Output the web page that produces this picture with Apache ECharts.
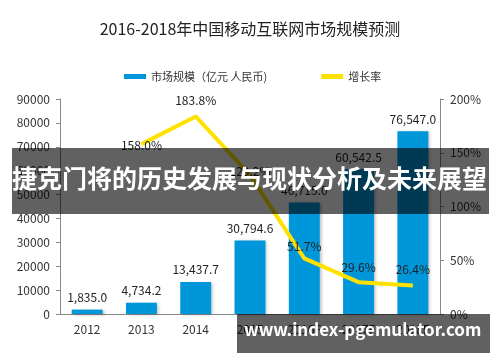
<!DOCTYPE html>
<html><head><meta charset="utf-8">
<script src="https://cdn.jsdelivr.net/npm/echarts@6/dist/echarts.min.js"></script>
<style>html,body{margin:0;padding:0;background:#fff}#c{width:500px;height:362px}</style>
</head><body><div id="c"></div>
<script>
const categories = ['2012','2013','2014','2015','2016F','2017F','2018F'];
const marketSize = [1835.0, 4734.2, 13437.7, 30794.6, 46715.0, 60542.5, 76547.0];
const growthRate = [null, 158.0, 183.8, 129.2, 51.7, 29.6, 26.4];
const leftTicks = {min: 0, max: 90000, interval: 10000};
const rightTicks = {min: 0, max: 200, interval: 50};
const titleText = '2016-2018年中国移动互联网市场规模预测';
const bannerText = '捷克门将的历史发展与现状分析及未来展望';
const urlText = 'www.index-pgemulator.com';

// label distances above the point (styling only, px)
const rateLabelGap = [0, -7, 10, -2, 6, 9, 10];

const font = '"Noto Sans CJK SC", "Noto Sans", sans-serif';
const rateData = growthRate.map((v, i) => ({value: v,
  label: {show: v !== null, position: 'top', distance: rateLabelGap[i], color: '#222', fontSize: 12,
    formatter: p => p.value.toFixed(1) + '%'}}));
const chart = echarts.init(document.getElementById('c'), null, {renderer: 'canvas'});
chart.setOption({
  animation: false,
  textStyle: {fontFamily: font},
  title: {text: titleText, left: 'center', top: 16,
    textStyle: {fontSize: 16, fontWeight: 'normal', color: '#222', fontFamily: font}},
  legend: {top: 66, left: 119, itemGap: 54, itemWidth: 22, itemHeight: 5,
    textStyle: {fontSize: 11, color: '#333', fontFamily: font},
    data: [{name: '市场规模（亿元 人民币)', icon: 'rect', itemStyle: {color: '#0096DA'}},
           {name: '增长率', icon: 'rect', itemStyle: {color: '#FFE100', opacity: 1}}]},
  grid: {left: 60, right: 60, top: 99, bottom: 48},
  xAxis: {type: 'category', data: categories,
    axisLine: {lineStyle: {color: '#888'}}, axisTick: {show: false},
    axisLabel: {color: '#333', fontSize: 12, margin: 9}},
  yAxis: [
    {type: 'value', min: leftTicks.min, max: leftTicks.max, interval: leftTicks.interval,
      splitLine: {show: false}, axisLine: {show: true, lineStyle: {color: '#888'}},
      axisTick: {show: true, length: 4, lineStyle: {color: '#888'}},
      axisLabel: {color: '#333', fontSize: 12, margin: 10, formatter: v => String(v)}},
    {type: 'value', min: rightTicks.min, max: rightTicks.max, interval: rightTicks.interval,
      splitLine: {show: false}, axisLine: {show: true, lineStyle: {color: '#888'}},
      axisTick: {show: true, length: 4, lineStyle: {color: '#888'}},
      axisLabel: {color: '#333', fontSize: 12, margin: 10, formatter: '{value}%'}}
  ],
  series: [
    {name: '市场规模（亿元 人民币)', type: 'bar', data: marketSize, barWidth: '57%',
      itemStyle: {color: '#0096DA', shadowColor: 'rgba(0,0,0,0.25)', shadowBlur: 3, shadowOffsetX: 2, shadowOffsetY: 1},
      label: {show: true, position: 'top', color: '#222', fontSize: 12, distance: 6,
        formatter: p => p.value.toLocaleString('en-US', {minimumFractionDigits: 1, maximumFractionDigits: 1})}},
    {name: '增长率', type: 'line', yAxisIndex: 1, data: rateData, showSymbol: true, symbol: 'circle', symbolSize: 0.1,
      lineStyle: {color: '#FFE100', width: 4}, itemStyle: {color: '#FFE100'},
      labelLayout: {hideOverlap: false},
      label: {show: true, position: 'top', color: '#222', fontSize: 12,
        formatter: p => p.value.toFixed(1) + '%'}}
  ],
  graphic: [
    {type: 'rect', left: 12, top: 148, shape: {width: 477, height: 66}, style: {fill: 'rgba(0,0,0,0.62)'}, z: 100},
    {type: 'text', left: 12, top: 166, style: {text: bannerText, fill: '#fff', fontSize: 25, fontWeight: 'bold', fontFamily: font}, z: 101},
    {type: 'rect', left: 237, top: 314, shape: {width: 253, height: 39}, style: {fill: 'rgba(0,0,0,0.62)'}, z: 100},
    {type: 'text', left: 244, top: 321, style: {text: urlText, fill: '#fff', fontSize: 17, fontWeight: 'bold', fontFamily: font}, z: 101}
  ]
});
</script></body></html>
